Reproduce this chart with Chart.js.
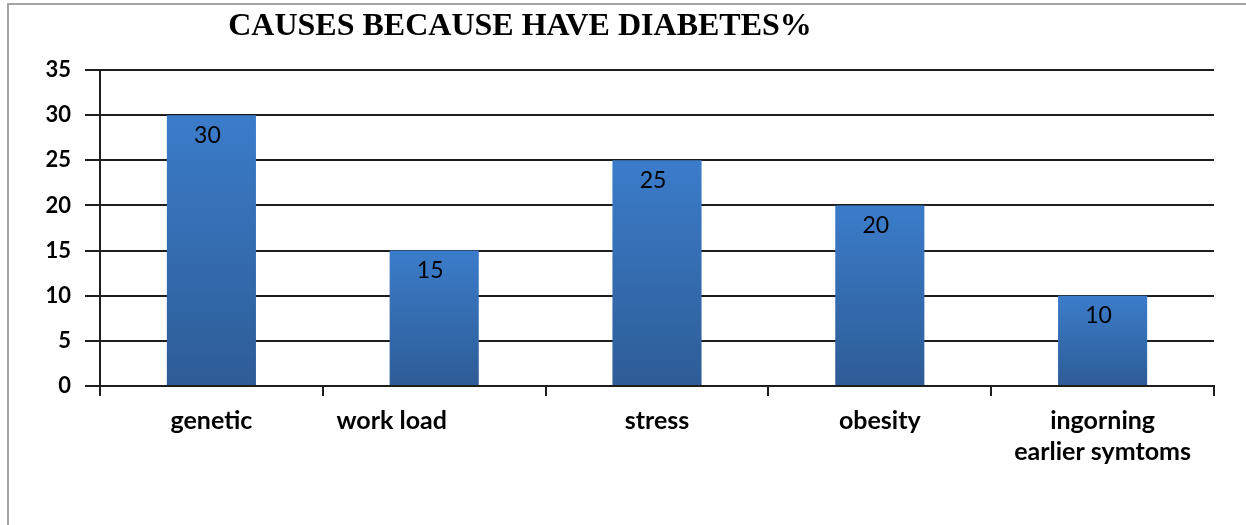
<!DOCTYPE html>
<html>
<head>
<meta charset="utf-8">
<script src="https://cdn.jsdelivr.net/npm/chart.js@4.4.1/dist/chart.umd.min.js"></script>
<style>
  html, body { margin: 0; padding: 0; background: #fff; }
  #wrap { position: absolute; left: 0; top: 0; width: 1246px; height: 525px; }
</style>
</head>
<body>
<div id="wrap"><canvas id="causesChart" width="1246" height="525"></canvas></div>
<script>
// categorias e valores (%)
const categorias = ['genetic', 'work load              ', 'stress', 'obesity', ['ingorning', 'earlier symtoms']];
const valores = [30, 15, 25, 20, 10];
const ticksY = { min: 0, max: 35, step: 5 };
const titulo = 'CAUSES BECAUSE HAVE DIABETES%';

const corLinha = '#1e1e1e';

// moldura cinza (esquerda e topo) + título
const molduraPlugin = {
  id: 'moldura',
  beforeDraw(chart) {
    const ctx = chart.ctx;
    ctx.save();
    ctx.strokeStyle = '#a3a3a3';
    ctx.lineWidth = 2;
    ctx.beginPath();
    ctx.moveTo(8, chart.height);
    ctx.lineTo(8, 4);
    ctx.lineTo(chart.width, 4);
    ctx.stroke();
    ctx.fillStyle = '#000';
    ctx.font = 'bold 32px "Liberation Serif"';
    ctx.textAlign = 'center';
    ctx.textBaseline = 'alphabetic';
    ctx.fillText(titulo, 520, 35);
    ctx.restore();
  }
};

// rótulo com o valor dentro da barra, perto do topo
const rotulosPlugin = {
  id: 'rotulos',
  afterDatasetsDraw(chart) {
    const ctx = chart.ctx;
    const meta = chart.getDatasetMeta(0);
    ctx.save();
    ctx.fillStyle = '#000';
    ctx.font = '23px Lato';
    ctx.textAlign = 'center';
    ctx.textBaseline = 'middle';
    meta.data.forEach((bar, i) => {
      ctx.fillText(String(valores[i]), bar.x - 4, bar.y + 20);
    });
    ctx.restore();
  }
};

function gradienteBarra(context) {
  const chart = context.chart;
  const y = chart.scales.y;
  if (!chart.chartArea || !y) return '#3670b3';
  const topo = y.getPixelForValue(context.raw);
  const base = y.getPixelForValue(0);
  const g = chart.ctx.createLinearGradient(0, topo, 0, base);
  g.addColorStop(0, '#3b7cca');
  g.addColorStop(1, '#2e5c96');
  return g;
}

const ctx = document.getElementById('causesChart').getContext('2d');
new Chart(ctx, {
  type: 'bar',
  data: {
    labels: categorias,
    datasets: [{
      data: valores,
      backgroundColor: gradienteBarra,
      borderWidth: 0,
      barPercentage: 0.8,
      categoryPercentage: 0.5
    }]
  },
  options: {
    responsive: false,
    animation: false,
    layout: { padding: { left: 0, top: 70, right: 32, bottom: 0 } },
    plugins: {
      legend: { display: false },
      tooltip: { enabled: false }
    },
    scales: {
      x: {
        offset: true,
        afterFit: (scale) => { scale.height = 139; },
        grid: {
          display: true,
          drawOnChartArea: false,
          drawTicks: true,
          tickLength: 10,
          color: corLinha,
          lineWidth: 2
        },
        border: { display: true, color: corLinha, width: 2 },
        ticks: {
          color: '#000',
          font: { family: 'Lato', weight: 'bold', size: 25, lineHeight: 1.25 },
          padding: 9,
          maxRotation: 0,
          autoSkip: false
        }
      },
      y: {
        min: ticksY.min,
        max: ticksY.max,
        afterFit: (scale) => { scale.width = 100; },
        grid: {
          color: corLinha,
          lineWidth: 2,
          tickLength: 15
        },
        border: { display: true, color: corLinha, width: 2 },
        ticks: {
          stepSize: ticksY.step,
          color: '#000',
          font: { family: 'Lato', weight: 'bold', size: 22 },
          padding: 14
        }
      }
    }
  },
  plugins: [molduraPlugin, rotulosPlugin]
});
</script>
</body>
</html>
